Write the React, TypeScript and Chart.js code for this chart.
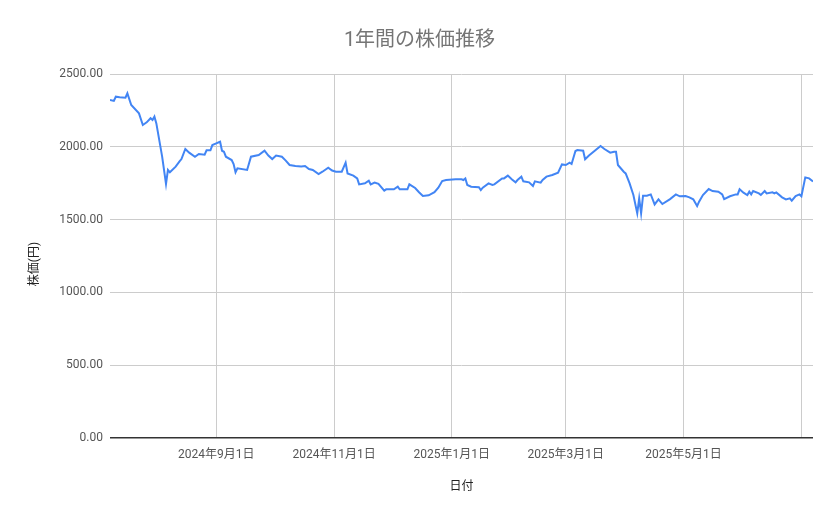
import React, { useEffect, useRef } from "react";
import { Chart, registerables } from "chart.js";

Chart.register(...registerables);

const chartTitle = "1年間の株価推移";
const xAxisTitle = "日付";
const yAxisTitle = "株価(円)";

const dates: string[] = [
  "2024-07-08","2024-07-10","2024-07-11","2024-07-13","2024-07-16","2024-07-17","2024-07-19","2024-07-23",
  "2024-07-25","2024-07-27","2024-07-29","2024-07-30","2024-07-31","2024-08-01","2024-08-04","2024-08-06",
  "2024-08-07","2024-08-08","2024-08-11","2024-08-13","2024-08-14","2024-08-16","2024-08-18","2024-08-21",
  "2024-08-23","2024-08-26","2024-08-27","2024-08-29","2024-08-30","2024-09-01","2024-09-03","2024-09-04",
  "2024-09-05","2024-09-06","2024-09-09","2024-09-10","2024-09-11","2024-09-12","2024-09-17","2024-09-19",
  "2024-09-23","2024-09-26","2024-09-28","2024-09-30","2024-10-02","2024-10-05","2024-10-07","2024-10-09",
  "2024-10-12","2024-10-15","2024-10-17","2024-10-19","2024-10-21","2024-10-24","2024-10-26","2024-10-29",
  "2024-10-31","2024-11-02","2024-11-05","2024-11-07","2024-11-08","2024-11-11","2024-11-13","2024-11-14",
  "2024-11-17","2024-11-19","2024-11-20","2024-11-22","2024-11-24","2024-11-27","2024-11-28","2024-12-02",
  "2024-12-04","2024-12-05","2024-12-09","2024-12-10","2024-12-13","2024-12-15","2024-12-17","2024-12-20",
  "2024-12-23","2024-12-25","2024-12-27","2024-12-29","2025-01-03","2025-01-06","2025-01-07","2025-01-08",
  "2025-01-09","2025-01-11","2025-01-15","2025-01-16","2025-01-17","2025-01-20","2025-01-22","2025-01-23",
  "2025-01-27","2025-01-28","2025-01-30","2025-02-01","2025-02-03","2025-02-04","2025-02-06","2025-02-07",
  "2025-02-10","2025-02-12","2025-02-13","2025-02-16","2025-02-17","2025-02-19","2025-02-22","2025-02-25",
  "2025-02-27","2025-03-01","2025-03-03","2025-03-04","2025-03-06","2025-03-07","2025-03-10","2025-03-11",
  "2025-03-13","2025-03-16","2025-03-19","2025-03-21","2025-03-24","2025-03-26","2025-03-27","2025-03-28",
  "2025-03-31","2025-04-01","2025-04-03","2025-04-05","2025-04-07","2025-04-08","2025-04-09","2025-04-10",
  "2025-04-12","2025-04-14","2025-04-16","2025-04-18","2025-04-20","2025-04-24","2025-04-27","2025-04-29",
  "2025-05-02","2025-05-04","2025-05-06","2025-05-08","2025-05-09","2025-05-11","2025-05-14","2025-05-16",
  "2025-05-19","2025-05-21","2025-05-22","2025-05-25","2025-05-28","2025-05-29","2025-05-30","2025-06-01",
  "2025-06-03","2025-06-04","2025-06-05","2025-06-06","2025-06-09","2025-06-10","2025-06-12","2025-06-13",
  "2025-06-16","2025-06-17","2025-06-18","2025-06-21","2025-06-23","2025-06-25","2025-06-26","2025-06-28",
  "2025-06-30","2025-07-01","2025-07-03","2025-07-05","2025-07-07",
];

const prices: number[] = [
  2321, 2315, 2344, 2340, 2337, 2367, 2287, 2230,
  2150, 2168, 2196, 2184, 2207, 2161, 1932, 1745,
  1841, 1825, 1864, 1900, 1916, 1985, 1960, 1932,
  1951, 1946, 1976, 1976, 2012, 2024, 2035, 1973,
  1966, 1932, 1909, 1882, 1825, 1852, 1841, 1932,
  1944, 1973, 1940, 1916, 1940, 1932, 1905, 1875,
  1868, 1864, 1868, 1847, 1841, 1813, 1829, 1857,
  1837, 1829, 1829, 1891, 1817, 1802, 1783, 1742,
  1749, 1767, 1742, 1754, 1745, 1699, 1708, 1708,
  1726, 1708, 1708, 1742, 1717, 1688, 1662, 1667,
  1688, 1719, 1765, 1772, 1777, 1777, 1772, 1783,
  1738, 1726, 1722, 1703, 1719, 1749, 1738, 1742,
  1783, 1783, 1802, 1777, 1756, 1772, 1795, 1763,
  1756, 1731, 1763, 1754, 1772, 1795, 1806, 1822,
  1879, 1875, 1891, 1882, 1971, 1978, 1973, 1914,
  1940, 1973, 2005, 1985, 1960, 1966, 1966, 1875,
  1829, 1817, 1750, 1669, 1543, 1646, 1543, 1664,
  1664, 1673, 1604, 1639, 1607, 1641, 1673, 1660,
  1662, 1653, 1639, 1593, 1623, 1669, 1710, 1696,
  1692, 1673, 1641, 1660, 1673, 1673, 1708, 1685,
  1669, 1692, 1673, 1696, 1680, 1669, 1696, 1680,
  1687, 1680, 1687, 1653, 1639, 1646, 1630, 1662,
  1673, 1660, 1790, 1783, 1762,
];

const xTickDates: string[] = ["2024-09-01", "2024-11-01", "2025-01-01", "2025-03-01", "2025-05-01", "2025-07-01"];
const xTickLabels: string[] = ["2024年9月1日", "2024年11月1日", "2025年1月1日", "2025年3月1日", "2025年5月1日", ""];

const yMin = 0;
const yMax = 2500;
const yStep = 500;

const toDay = (s: string) => {
  const [y, m, d] = s.split("-").map(Number);
  return Date.UTC(y, m - 1, d) / 86400000;
};

const FONT = "Roboto, 'Noto Sans CJK JP', sans-serif";

// Draws the vertical axis title a little below the plot's middle, as in the reference.
const yTitlePlugin = {
  id: "yTitle",
  afterDraw(chart: any) {
    const { ctx, chartArea } = chart;
    ctx.save();
    ctx.translate(35, (chartArea.top + chartArea.bottom) / 2 + 8);
    ctx.rotate(-Math.PI / 2);
    ctx.fillStyle = "#222222";
    ctx.font = `12px ${FONT}`;
    ctx.textAlign = "center";
    ctx.textBaseline = "middle";
    ctx.fillText(yAxisTitle, 0, 0);
    ctx.restore();
  },
};

export default function App() {
  const canvasRef = useRef<HTMLCanvasElement | null>(null);

  useEffect(() => {
    const canvas = canvasRef.current;
    if (!canvas) return;
    const points = dates.map((d, i) => ({ x: toDay(d), y: prices[i] }));
    const chart = new Chart(canvas, {
      type: "line",
      data: {
        datasets: [
          {
            label: "株価",
            data: points,
            borderColor: "#4285F4",
            backgroundColor: "#4285F4",
            borderWidth: 2,
            pointRadius: 0,
            pointHoverRadius: 0,
            tension: 0,
            fill: false,
            yAxisID: "y",
          },
        ],
      },
      options: {
        animation: false,
        responsive: true,
        maintainAspectRatio: false,
        layout: { padding: { left: 0, right: 0, top: 0, bottom: 0 } },
        plugins: {
          legend: { display: false },
          tooltip: { enabled: false },
          title: {
            display: true,
            text: chartTitle,
            color: "#757575",
            font: { family: FONT, size: 20, weight: "normal" },
            padding: { top: 29, bottom: 21 },
          },
        },
        scales: {
          x: {
            type: "linear",
            min: toDay(dates[0]),
            max: toDay(dates[dates.length - 1]),
            afterBuildTicks: (scale: any) => {
              scale.ticks = xTickDates.map((d) => ({ value: toDay(d) }));
            },
            afterFit: (scale: any) => {
              scale.height = 81;
            },
            ticks: {
              autoSkip: false,
              maxRotation: 0,
              minRotation: 0,
              padding: 10,
              color: "#555555",
              font: { family: FONT, size: 12 },
              callback: (_v: any, i: number) => xTickLabels[i],
            },
            grid: { color: "#cccccc", drawTicks: false, lineWidth: 1 },
            border: { display: false },
            title: {
              display: true,
              text: xAxisTitle,
              color: "#222222",
              font: { family: FONT, size: 12 },
              padding: { top: 0, bottom: 25 },
            },
          },
          y: {
            type: "linear",
            min: yMin,
            max: yMax,
            afterFit: (scale: any) => {
              scale.width = 110;
            },
            ticks: {
              stepSize: yStep,
              padding: 7,
              color: "#555555",
              font: { family: FONT, size: 12 },
              callback: (v: any) => Number(v).toFixed(2),
            },
            grid: {
              drawTicks: false,
              color: (ctx: any) => (ctx.tick && ctx.tick.value === 0 ? "#333333" : "#cccccc"),
              lineWidth: (ctx: any) => (ctx.tick && ctx.tick.value === 0 ? 1.5 : 1),
            },
            border: { display: false },
            title: { display: false },
          },
          yRight: {
            type: "linear",
            position: "right",
            min: yMin,
            max: yMax,
            afterFit: (scale: any) => {
              scale.width = 26;
            },
            ticks: { display: false },
            grid: { display: false, drawTicks: false },
            border: { display: false },
          },
        },
      },
      plugins: [yTitlePlugin],
    });
    return () => chart.destroy();
  }, []);

  return (
    <div style={{ position: "fixed", left: 0, top: 0, width: 839, height: 519, background: "#fff" }}>
      <canvas ref={canvasRef} />
    </div>
  );
}
